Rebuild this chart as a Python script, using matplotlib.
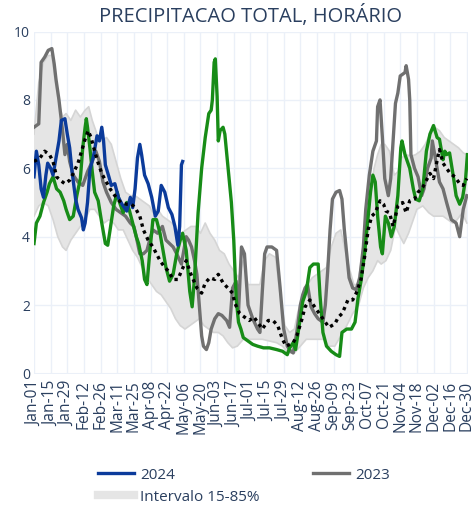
import numpy as np
import matplotlib
matplotlib.use("Agg")
import matplotlib.pyplot as plt
from matplotlib.lines import Line2D

plt.rcParams["font.family"] = ["Open Sans", "DejaVu Sans"]

# Day of year (0 = Jan-01)
tick_days = list(range(0, 365, 14))
tick_labels = [
    "Jan-01", "Jan-15", "Jan-29", "Feb-12", "Feb-26", "Mar-11", "Mar-25",
    "Apr-08", "Apr-22", "May-06", "May-20", "Jun-03", "Jun-17", "Jul-01",
    "Jul-15", "Jul-29", "Aug-12", "Aug-26", "Sep-09", "Sep-23", "Oct-07",
    "Oct-21", "Nov-04", "Nov-18", "Dec-02", "Dec-16", "Dec-30",
]

# 2023
days_2023 = [0, 4, 6, 9, 12, 15, 17, 18.5, 21, 24, 26, 28, 30, 33, 37, 41, 45, 49, 52,
             55, 58, 61, 65, 69, 73, 77, 81, 84, 86, 89, 92, 95, 98, 100, 104, 108, 111,
             114, 117, 120, 124, 126, 128, 130, 132.5, 135, 137, 139.5, 141, 142.5, 145,
             147, 149, 152, 155, 158, 162, 164.5, 167, 170, 172, 174.5, 177, 180, 184,
             188, 190, 192, 194, 196, 200, 204, 207, 210, 213, 216, 218, 221, 224, 226,
             228, 230, 233, 236, 239, 243, 245, 247, 249, 251, 254, 257, 259, 261, 263,
             265, 268, 271, 274, 277, 279, 282, 285, 288, 289, 291, 293, 295, 298, 300,
             302, 304, 306, 308, 310, 312, 313, 315, 316, 317, 320, 323, 326, 328, 331,
             334, 335, 338, 341, 344, 347, 351, 355, 358, 361, 364]
vals_2023 = [7.2, 7.3, 9.1, 9.25, 9.45, 9.5, 9.05, 8.6, 8.0, 7.1, 6.4, 6.7, 6.2, 5.8,
             5.6, 5.5, 5.9, 6.2, 6.5, 6.2, 5.6, 5.3, 5.0, 4.8, 4.7, 4.6, 4.4, 4.3, 4.0,
             3.5, 3.5, 3.6, 4.0, 4.2, 4.1, 4.3, 3.9, 3.8, 3.7, 3.5, 3.2, 3.6, 4.0, 3.9,
             3.7, 3.3, 2.9, 1.8, 1.1, 0.8, 0.7, 0.9, 1.3, 1.6, 1.75, 1.7, 1.55, 1.35,
             2.5, 2.7, 1.8, 3.7, 3.5, 2.0, 1.6, 1.3, 1.2, 2.4, 3.5, 3.7, 3.7, 3.6, 2.5,
             1.3, 0.8, 0.65, 0.6, 1.2, 2.0, 2.3, 2.5, 2.6, 1.95, 1.75, 1.6, 1.5, 2.0, 3.0,
             4.2, 5.1, 5.3, 5.35, 5.1, 4.2, 3.5, 2.8, 2.5, 2.45, 2.8, 3.7, 4.8, 5.8, 6.5,
             6.8, 7.8, 8.0, 6.9, 5.7, 5.2, 5.7, 6.8, 7.9, 8.2, 8.7, 8.75, 8.8, 9.0, 8.6,
             8.0, 6.4, 6.0, 5.75, 5.2, 5.4, 6.0, 6.3, 6.8, 6.2, 5.6, 5.4, 5.0, 4.5, 4.4,
             4.0, 4.8, 5.2]

# 2024 (up to early May)
days_2024 = [0, 2, 4, 6, 8, 10, 11.5, 14, 16, 18, 21, 23, 26, 28, 30, 32, 35, 37, 40,
             41.5, 43, 45, 47, 50, 53, 55, 57, 58.5, 60, 63, 65, 68, 71, 74, 78, 81, 83,
             85, 87, 89, 90.5, 93, 96, 99, 102, 104.5, 107, 110, 113, 116, 118.5, 121,
             122.5, 124, 125]
vals_2024 = [5.75, 6.5, 6.1, 5.4, 5.15, 5.8, 6.15, 6.0, 5.8, 6.2, 6.8, 7.4, 7.45, 7.0,
             6.6, 5.9, 5.1, 4.8, 4.55, 4.2, 4.4, 5.0, 5.95, 6.35, 6.95, 6.8, 7.2, 6.8,
             6.1, 5.75, 5.5, 5.55, 5.15, 4.95, 4.75, 5.15, 4.85, 5.4, 6.3, 6.7, 6.4, 5.8,
             5.55, 5.15, 4.6, 4.75, 5.5, 5.3, 4.85, 4.65, 4.3, 3.75, 4.3, 6.1, 6.2]

# Green series
days_green = [0, 2, 5, 8, 11, 13, 16, 19, 22, 25, 27, 30, 33, 36, 39, 41, 43, 44, 45, 47,
              49, 51, 54, 57, 60, 62, 64, 67, 70, 72, 75, 78, 80, 83, 86, 88, 91, 93, 95,
              97, 100, 103, 106, 109, 111, 114, 117, 120, 123, 125, 128, 131, 133, 135,
              138, 141, 144, 147, 149, 150, 151.5, 152.5, 154, 155, 156.5, 159, 160.5,
              163, 166, 168, 170, 172, 174, 176, 180, 184, 188, 193, 198, 204, 209, 213,
              215, 218, 220, 223, 226, 229, 232, 235, 239, 240.5, 243, 246, 250, 254,
              257, 259, 263, 267, 270, 272.5, 275, 278, 281, 283, 285, 287, 289, 291.5,
              293, 295.5, 298, 300.5, 303, 306, 308.5, 309.5, 312, 316, 319, 321, 324,
              327, 330, 333, 336, 339, 341, 344, 345.5, 347, 349.5, 352.5, 355, 358,
              360.5, 363, 364.5]
vals_green = [3.8, 4.4, 4.6, 5.0, 5.3, 5.55, 5.75, 5.4, 5.3, 5.05, 4.8, 4.5, 4.6, 5.2,
              5.7, 6.6, 7.2, 7.45, 7.2, 6.6, 5.9, 5.3, 5.05, 4.4, 3.8, 3.75, 4.2, 4.9,
              5.3, 5.0, 4.7, 5.0, 4.8, 4.4, 4.0, 3.8, 3.3, 2.75, 2.6, 3.4, 4.5, 4.5, 4.1,
              3.5, 3.1, 2.7, 2.9, 3.5, 3.9, 4.1, 3.6, 2.4, 1.95, 2.8, 4.7, 6.0, 6.9, 7.6,
              7.7, 8.0, 9.1, 9.2, 8.1, 6.8, 7.1, 7.2, 7.0, 6.1, 5.0, 3.9, 2.2, 1.5, 1.3,
              1.05, 0.95, 0.85, 0.8, 0.75, 0.75, 0.7, 0.65, 0.55, 0.75, 0.9, 0.7, 1.4,
              2.1, 2.4, 3.1, 3.2, 3.2, 2.3, 1.2, 0.8, 0.65, 0.55, 0.5, 1.2, 1.3, 1.3, 1.5,
              2.2, 2.7, 3.5, 4.6, 5.3, 5.8, 5.6, 4.6, 3.7, 3.5, 4.6, 4.4, 4.0, 4.3, 5.2,
              6.6, 6.8, 6.4, 6.0, 5.4, 5.1, 5.05, 5.4, 6.5, 7.0, 7.25, 6.9, 6.85, 6.25,
              6.5, 6.4, 6.45, 5.8, 5.2, 4.95, 5.15, 5.7, 6.4]

# Median (dotted)
days_med = [0, 5, 9, 13, 16, 19, 22, 26, 30, 33, 37, 40, 43, 45.5, 48, 51, 54, 57, 60, 64,
            68, 73, 78, 82, 85, 89, 92, 96, 100, 103, 106, 110, 113, 117, 121, 124, 128,
            132, 137, 141, 144, 148, 152, 155, 159, 163, 167, 169, 173, 177, 181, 185,
            188, 192, 197, 201, 205, 209, 212, 215, 218, 221, 225, 228, 232, 236, 240,
            244, 248, 253, 256, 259, 261, 264, 268, 271, 275, 278, 281, 284, 287, 291,
            294, 296, 299, 302, 306, 310, 313, 316, 320, 323, 327, 330, 333, 336, 340,
            341, 344, 347, 350, 354, 358, 361, 364]
vals_med = [6.2, 6.3, 6.5, 6.4, 6.2, 5.75, 5.65, 5.55, 5.65, 5.85, 6.15, 6.5, 6.85, 7.1,
            6.9, 6.5, 6.15, 5.85, 5.65, 5.4, 5.2, 5.0, 4.95, 4.95, 4.85, 4.6, 4.2, 3.9,
            3.7, 3.5, 3.3, 3.1, 3.0, 2.75, 2.75, 3.0, 3.3, 2.9, 2.5, 2.35, 2.65, 2.8,
            2.75, 2.9, 2.65, 2.5, 2.35, 2.05, 1.75, 1.65, 1.55, 1.65, 1.5, 1.3, 1.55,
            1.55, 1.4, 1.0, 0.8, 0.85, 0.9, 1.1, 1.55, 1.95, 2.15, 1.95, 1.75, 1.55,
            1.35, 1.45, 1.65, 1.75, 1.9, 2.15, 2.15, 2.35, 2.75, 3.4, 4.2, 4.6, 4.7,
            5.05, 4.95, 4.75, 4.7, 4.3, 4.9, 5.0, 4.7, 5.05, 5.1, 5.3, 5.45, 5.65, 5.85,
            5.7, 6.4, 6.55, 6.15, 6.0, 5.85, 5.75, 5.55, 5.5, 5.7]

# 15-85% band
band_up_days = [0, 4, 8, 12, 15, 18, 21, 24, 27, 31, 35, 39, 43, 46, 49, 53, 57, 61, 65,
                69, 73, 77, 81, 85, 89, 93, 97, 100, 104, 108, 112, 116, 120, 124, 128,
                132, 136, 140, 144, 148, 152, 156, 160, 164, 168, 172, 176, 180, 185,
                190, 194, 198, 203, 207, 211, 215, 219, 222, 226, 230, 234, 238, 242,
                246, 250, 254, 258, 261, 265, 269, 272, 276, 280, 283, 286, 289, 292,
                295, 299, 303, 306, 309, 313, 317, 321, 325, 329, 333, 337, 341, 345,
                349, 353, 357, 361, 364]
band_up = [7.0, 8.5, 9.1, 9.3, 9.3, 8.5, 7.9, 7.5, 7.6, 7.4, 7.7, 7.5, 7.7, 7.8, 7.4,
           7.0, 6.8, 6.9, 6.7, 6.2, 5.7, 5.3, 5.2, 5.2, 5.1, 5.0, 4.9, 4.7, 4.8, 4.6,
           4.5, 4.4, 4.2, 4.1, 4.2, 4.3, 4.3, 4.1, 4.4, 4.1, 3.9, 3.6, 3.5, 3.2, 3.0,
           2.8, 3.3, 2.6, 2.6, 2.6, 3.3, 3.5, 3.4, 2.3, 1.4, 1.2, 1.3, 1.8, 2.3, 2.6,
           2.8, 2.9, 3.0, 3.1, 3.7, 4.1, 4.2, 3.7, 3.1, 2.6, 2.6, 3.4, 4.5, 5.3, 6.0,
           6.4, 6.7, 6.7, 6.5, 5.8, 5.9, 6.3, 6.4, 6.35, 6.4, 6.5, 6.7, 7.0, 7.2, 7.1,
           6.9, 6.8, 6.7, 6.6, 6.45, 6.4]
band_lo_days = [0, 4, 8, 12, 16, 20, 24, 27, 31, 35, 39, 43, 47, 51, 55, 59, 63, 67, 71,
                75, 79, 83, 87, 91, 95, 99, 103, 107, 111, 115, 119, 123, 127, 131, 135,
                139, 143, 147, 151, 155, 159, 163, 167, 171, 176, 181, 186, 192, 198,
                204, 209, 214, 219, 224, 229, 234, 239, 244, 248, 253, 258, 263, 268,
                273, 277, 281, 285, 289, 292, 296, 300, 304, 308, 311, 315, 319, 322,
                327, 332, 336, 340, 344, 348, 352, 356, 360, 364]
band_lo = [4.6, 4.9, 5.0, 4.9, 4.5, 4.0, 3.7, 3.6, 3.9, 4.1, 4.3, 4.5, 4.8, 4.8, 4.6,
           4.4, 4.5, 4.4, 4.2, 4.2, 3.9, 3.6, 3.4, 3.1, 2.8, 2.6, 2.4, 2.3, 2.1, 1.9,
           1.6, 1.4, 1.3, 1.4, 1.5, 1.6, 1.4, 1.3, 1.2, 1.2, 1.1, 0.9, 0.75, 0.8, 1.0,
           1.0, 1.0, 1.0, 0.95, 0.9, 0.8, 0.6, 0.6, 0.8, 1.0, 1.0, 1.0, 1.0, 0.8, 0.8,
           1.1, 1.4, 1.75, 2.0, 2.5, 2.8, 3.0, 3.3, 3.2, 3.3, 3.6, 4.3, 4.0, 3.8, 4.1,
           4.5, 4.8, 4.9, 4.7, 4.6, 4.6, 4.6, 4.5, 4.4, 4.5, 4.7, 4.4]

TEXT = "#2a3f5f"
GRID = "#ebf0f8"
C_2024 = "#0b3b9b"
C_2023 = "#707070"
C_GREEN = "#178c17"
C_BAND = "#e5e5e5"
C_BAND_EDGE = "#d5d5d5"

W, H = 475, 505
fig = plt.figure(figsize=(W / 100, H / 100), dpi=100)
ax = fig.add_axes([34 / W, 1 - 373.5 / H, 434 / W, 342 / H])

# band
ax.fill(np.r_[band_up_days, band_lo_days[::-1]], np.r_[band_up, band_lo[::-1]],
        color=C_BAND, lw=0, zorder=1)
ax.plot(band_up_days, band_up, color=C_BAND_EDGE, lw=1.2, zorder=1.5)
ax.plot(band_lo_days, band_lo, color=C_BAND_EDGE, lw=1.2, zorder=1.5)

ax.plot(days_2023, vals_2023, color=C_2023, lw=2.4, zorder=3)
ax.plot(days_green, vals_green, color=C_GREEN, lw=2.4, zorder=4)
ax.plot(days_2024, vals_2024, color=C_2024, lw=2.4, zorder=5)
ax.plot(days_med, vals_med, color="black", lw=2.4, linestyle=(0, (1, 1.2)),
        dash_capstyle="butt", zorder=6)

ax.set_xlim(0, 365)
ax.set_ylim(0, 10)
ax.set_xticks(tick_days)
ax.set_xticklabels(tick_labels, rotation=90, fontsize=11.2, color=TEXT)
ax.set_yticks([0, 2, 4, 6, 8, 10])
ax.set_yticklabels(["0", "2", "4", "6", "8", "10"], fontsize=10, color=TEXT)
ax.tick_params(axis="x", length=0, pad=5)
ax.tick_params(axis="y", length=0, pad=3)
ax.grid(True, color=GRID, lw=1, zorder=0)
ax.set_axisbelow(True)
for s in ax.spines.values():
    s.set_visible(False)
ax.axhline(0, color=GRID, lw=1.5, zorder=0)

fig.text(251 / W, 1 - 16 / H, "PRECIPITACAO TOTAL, HORÁRIO", ha="center", va="center",
         fontsize=14.5, color=TEXT)

handles = [
    Line2D([], [], color=C_2024, lw=2.4),
    Line2D([], [], color=C_BAND, lw=6),
    Line2D([], [], color=C_2023, lw=2.4),
]
labels = ["2024", "Intervalo 15-85%", "2023"]
leg = fig.legend(handles, labels, ncol=2, loc="upper left",
                 bbox_to_anchor=(90 / W, 1 - 460 / H), frameon=False,
                 fontsize=11, handlelength=2.4, handletextpad=0.4,
                 columnspacing=3.45, labelspacing=0.45, borderpad=0)
for t in leg.get_texts():
    t.set_color(TEXT)

fig.savefig("out.png", dpi=100)
